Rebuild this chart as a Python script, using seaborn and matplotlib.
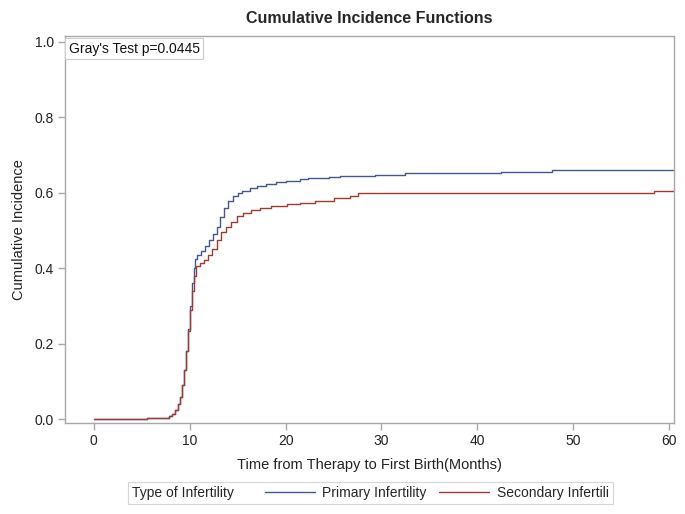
import pandas as pd
import matplotlib
matplotlib.use("Agg")
import matplotlib.pyplot as plt
import seaborn as sns
from matplotlib.lines import Line2D
from matplotlib.offsetbox import HPacker

# step times / cumulative incidence
primary_t = [0, 5.5, 6.5, 7.8, 8.2, 8.5, 8.8, 9.0, 9.2, 9.4, 9.6, 9.8, 10.0, 10.2, 10.4,
             10.6, 10.8, 11.2, 11.6, 12.0, 12.4, 12.8, 13.2, 13.6, 14.0, 14.5, 15.0, 15.5,
             16.3, 17.0, 18.0, 19.0, 20.0, 21.5, 22.3, 24.5, 25.7, 29.3, 32.5, 42.5, 46.9,
             47.8, 60.5]
primary_ci = [0, 0.003, 0.004, 0.008, 0.015, 0.025, 0.04, 0.06, 0.09, 0.13, 0.18, 0.24, 0.30,
              0.36, 0.40, 0.425, 0.435, 0.445, 0.46, 0.475, 0.49, 0.51, 0.535, 0.56, 0.578,
              0.59, 0.598, 0.605, 0.613, 0.618, 0.622, 0.628, 0.632, 0.635, 0.638, 0.641,
              0.644, 0.646, 0.651, 0.654, 0.656, 0.659, 0.661]

secondary_t = [0, 5.5, 6.5, 7.8, 8.2, 8.5, 8.8, 9.0, 9.2, 9.4, 9.6, 9.8, 10.0, 10.2, 10.4,
               10.7, 11.1, 11.5, 11.9, 12.3, 12.8, 13.3, 13.8, 14.3, 14.9, 15.6, 16.4, 17.3,
               18.5, 20.1, 21.5, 23.1, 25.0, 26.7, 27.6, 58.4, 60.5]
secondary_ci = [0, 0.003, 0.004, 0.008, 0.015, 0.025, 0.04, 0.06, 0.09, 0.13, 0.18, 0.235,
                0.29, 0.34, 0.38, 0.405, 0.415, 0.422, 0.435, 0.45, 0.476, 0.495, 0.51, 0.523,
                0.538, 0.545, 0.553, 0.56, 0.566, 0.571, 0.573, 0.578, 0.586, 0.592, 0.600,
                0.604, 0.604]

groups = ["Primary Infertility", "Secondary Infertili"]
colors = {"Primary Infertility": "#445694", "Secondary Infertili": "#A23A2E"}

df = pd.concat([
    pd.DataFrame({"time": primary_t, "ci": primary_ci, "group": groups[0]}),
    pd.DataFrame({"time": secondary_t, "ci": secondary_ci, "group": groups[1]}),
])

sns.set_style("white")
plt.rcParams["font.family"] = ["Liberation Sans", "DejaVu Sans"]

fig = plt.figure(figsize=(6.85, 5.14), dpi=100)
ax = fig.add_axes([0.0949, 0.177, 0.889, 0.753])

sns.lineplot(data=df, x="time", y="ci", hue="group", palette=colors,
             drawstyle="steps-post", linewidth=1.0, estimator=None, ax=ax, legend=False)

ax.set_xlim(-3.0, 60.5)
ax.set_ylim(-0.01, 1.015)
ax.set_xticks(range(0, 61, 10))
ax.set_yticks([0, 0.2, 0.4, 0.6, 0.8, 1.0])
ax.set_yticklabels(["0.0", "0.2", "0.4", "0.6", "0.8", "1.0"])

for s in ax.spines.values():
    s.set_color("#a8a8a8")
    s.set_linewidth(1.0)
ax.tick_params(axis="both", direction="out", length=5, width=1, color="#a8a8a8",
               labelsize=10, labelcolor="#222222", pad=3, bottom=True, left=True)

ax.set_xlabel("Time from Therapy to First Birth(Months)", fontsize=10.5, color="#222222", labelpad=7)
ax.set_ylabel("Cumulative Incidence", fontsize=10.5, color="#222222", labelpad=6)
ax.set_title("Cumulative Incidence Functions", fontsize=11.5, fontweight="bold", pad=9)

ax.text(0.006, 0.985, "Gray's Test p=0.0445", transform=ax.transAxes, fontsize=10,
        va="top", ha="left", color="#111111",
        bbox=dict(boxstyle="square,pad=0.25", fc="white", ec="#cccccc", lw=0.8))

handles = [Line2D([], [], color=colors[g], lw=1.0) for g in groups]
leg = fig.legend(handles, groups, title="Type of Infertility", ncol=2,
                 loc="center", bbox_to_anchor=(0.541, 0.041), frameon=True,
                 fontsize=10, title_fontsize=10, handlelength=3.6,
                 columnspacing=0.9, handletextpad=0.55, borderpad=0.3,
                 fancybox=False, edgecolor="#cccccc")
leg.get_frame().set_linewidth(0.8)
# put the legend title on the left of the entries, like SAS
old = leg._legend_box
leg._legend_box = HPacker(pad=old.pad, sep=22, align="center",
                          children=[leg._legend_title_box, leg._legend_handle_box])
leg._legend_box.set_figure(fig)
leg._legend_box.set_offset(leg._findoffset)

fig.savefig("out.png", dpi=100)
